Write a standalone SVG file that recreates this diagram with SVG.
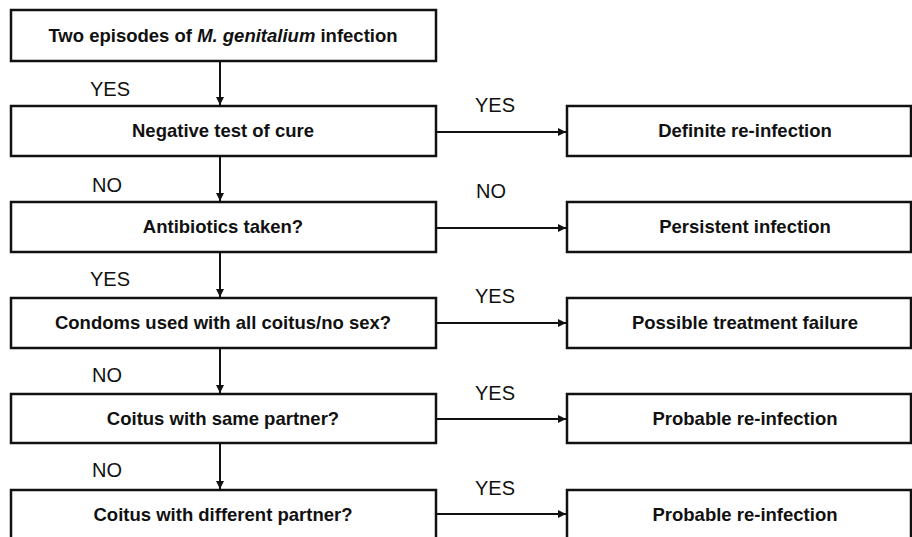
<svg xmlns="http://www.w3.org/2000/svg" width="912" height="537" viewBox="0 0 912 537">
<defs>
<style>
.box{fill:#fff;stroke:#111;stroke-width:2.5}
.t{font-family:"Liberation Sans",Arial,sans-serif;font-weight:bold;font-size:18.5px;fill:#111;text-anchor:middle}
.lab{font-family:"Liberation Sans",Arial,sans-serif;font-size:20px;fill:#111}
.c{stroke:#111;stroke-width:2;fill:none;marker-end:url(#ah)}
</style>
<marker id="ah" viewBox="0 0 10 10" refX="10" refY="5" markerWidth="4" markerHeight="4" orient="auto" markerUnits="strokeWidth">
<path d="M0,0 L10,5 L0,10 z" fill="#111"/>
</marker>
</defs>
<rect width="912" height="537" fill="#fff"/>
<g id="n1"><rect class="box" x="11" y="10" width="425" height="51"/><text class="t" x="223" y="42">Two episodes of <tspan font-style="italic">M. genitalium</tspan> infection</text></g>
<g id="n2"><rect class="box" x="11" y="106" width="425" height="50"/><text class="t" x="223" y="137">Negative test of cure</text></g>
<g id="n3"><rect class="box" x="11" y="202" width="425" height="50"/><text class="t" x="223" y="233">Antibiotics taken?</text></g>
<g id="n4"><rect class="box" x="11" y="298" width="425" height="50"/><text class="t" x="223" y="329">Condoms used with all coitus/no sex?</text></g>
<g id="n5"><rect class="box" x="11" y="394" width="425" height="49"/><text class="t" x="223" y="425">Coitus with same partner?</text></g>
<g id="n6"><rect class="box" x="11" y="490" width="425" height="50"/><text class="t" x="223" y="521">Coitus with different partner?</text></g>
<g id="r1"><rect class="box" x="567" y="106" width="344" height="50"/><text class="t" x="745" y="137">Definite re-infection</text></g>
<g id="r2"><rect class="box" x="567" y="202" width="344" height="50"/><text class="t" x="745" y="233">Persistent infection</text></g>
<g id="r3"><rect class="box" x="567" y="298" width="344" height="50"/><text class="t" x="745" y="329">Possible treatment failure</text></g>
<g id="r4"><rect class="box" x="567" y="394" width="344" height="49"/><text class="t" x="745" y="425">Probable re-infection</text></g>
<g id="r5"><rect class="box" x="567" y="490" width="344" height="50"/><text class="t" x="745" y="521">Probable re-infection</text></g>
<g id="connectors">
<path class="c" d="M220,62 V105"/>
<path class="c" d="M220,157 V201"/>
<path class="c" d="M220,253 V297"/>
<path class="c" d="M220,349 V393"/>
<path class="c" d="M220,444 V489"/>
<path class="c" d="M437,132 H566"/>
<path class="c" d="M437,228 H566"/>
<path class="c" d="M437,323 H566"/>
<path class="c" d="M437,419 H566"/>
<path class="c" d="M437,514 H566"/>
<text class="lab" x="90" y="96">YES</text>
<text class="lab" x="92" y="192">NO</text>
<text class="lab" x="90" y="286">YES</text>
<text class="lab" x="92" y="382">NO</text>
<text class="lab" x="92" y="477">NO</text>
<text class="lab" x="475" y="112">YES</text>
<text class="lab" x="476" y="198">NO</text>
<text class="lab" x="475" y="303">YES</text>
<text class="lab" x="475" y="400">YES</text>
<text class="lab" x="475" y="495">YES</text>
</g>
</svg>
